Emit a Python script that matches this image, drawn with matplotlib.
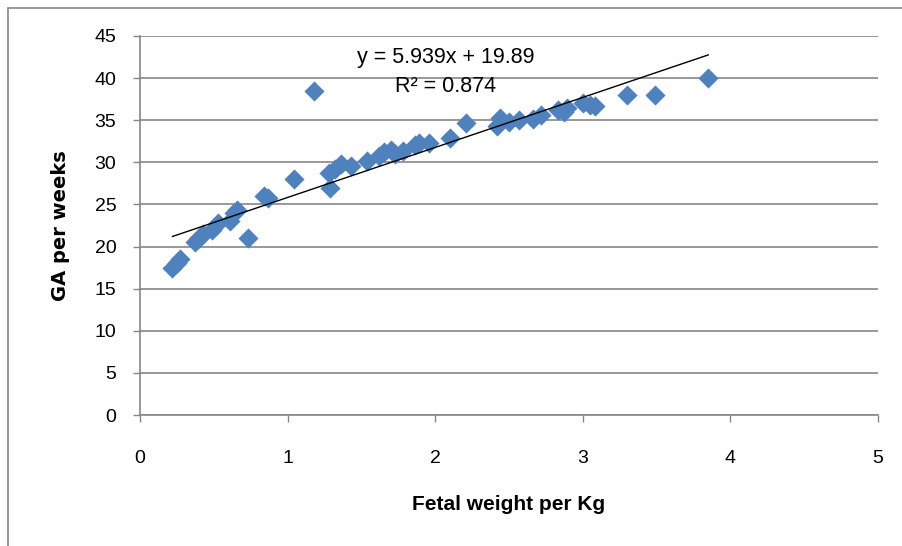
import matplotlib
matplotlib.use("Agg")
import matplotlib.pyplot as plt
import numpy as np

# fetal weight (kg) vs gestational age (weeks)
weight = [0.22, 0.25, 0.27, 0.37, 0.40, 0.43, 0.49, 0.53, 0.61, 0.64,
          0.66, 0.73, 0.84, 0.87, 1.04, 1.18, 1.28, 1.29, 1.32, 1.36,
          1.43, 1.54, 1.62, 1.65, 1.70, 1.73, 1.78, 1.86, 1.89, 1.96,
          2.10, 2.21, 2.42, 2.44, 2.50, 2.57, 2.66, 2.72, 2.83, 2.87,
          2.89, 3.00, 3.05, 3.08, 3.30, 3.49, 3.85]
ga = [17.5, 18.0, 18.5, 20.5, 21.0, 21.5, 22.0, 22.8, 23.0, 24.0,
      24.3, 21.0, 26.0, 25.8, 28.0, 38.5, 28.7, 27.0, 29.2, 29.8,
      29.6, 30.2, 30.8, 31.2, 31.5, 31.0, 31.4, 32.0, 32.3, 32.3,
      32.9, 34.7, 34.3, 35.3, 34.8, 35.0, 35.2, 35.6, 36.2, 36.0,
      36.5, 37.0, 36.8, 36.7, 38.0, 38.0, 40.0]

slope, intercept = 5.939, 19.89
x_ticks = [0, 1, 2, 3, 4, 5]
y_ticks = [0, 5, 10, 15, 20, 25, 30, 35, 40, 45]

plt.rcParams['font.family'] = ['Liberation Sans Narrow', 'Liberation Sans', 'DejaVu Sans']

fig = plt.figure(figsize=(9.02, 5.46), dpi=100)
ax = fig.add_axes([140/902, 1 - 415/546, 738/902, 379/546])

# outer frame of the chart area
fig.patches.append(plt.Rectangle((8/902, -0.01), 1.0, 1 - 8/546 + 0.01,
                                 transform=fig.transFigure, fill=False,
                                 edgecolor='#868686', linewidth=1.2))

ax.scatter(weight, ga, marker='D', s=105, color='#4F81BD', zorder=3, linewidths=0)

# linear trend line
xs = np.array([min(weight), max(weight)])
ax.plot(xs, slope * xs + intercept, color='black', linewidth=1, zorder=4)

ax.text(2.07, 42.4, "y = 5.939x + 19.89", ha='center', va='center', fontsize=15.5)
ax.text(2.07, 39.0, "R² = 0.874", ha='center', va='center', fontsize=15.5)

ax.set_xlim(0, 5)
ax.set_ylim(0, 45)
ax.set_xticks(x_ticks)
ax.set_yticks(y_ticks)
ax.tick_params(labelsize=14, color='#868686', length=5, width=1)
ax.tick_params(axis='x', pad=20)
ax.tick_params(axis='y', pad=12)
ax.yaxis.grid(True, color='#868686', linewidth=1.2)
ax.set_axisbelow(True)
for s in ['top', 'right']:
    ax.spines[s].set_visible(False)
for s in ['left', 'bottom']:
    ax.spines[s].set_color('#868686')
    ax.spines[s].set_linewidth(1.2)

ax.set_xlabel("Fetal weight per Kg", fontsize=15, fontweight='bold', labelpad=20)
ax.set_ylabel("GA per weeks", fontsize=14, fontweight='bold', labelpad=18,
              family=['DejaVu Sans'])

fig.savefig("out.png", dpi=100)
